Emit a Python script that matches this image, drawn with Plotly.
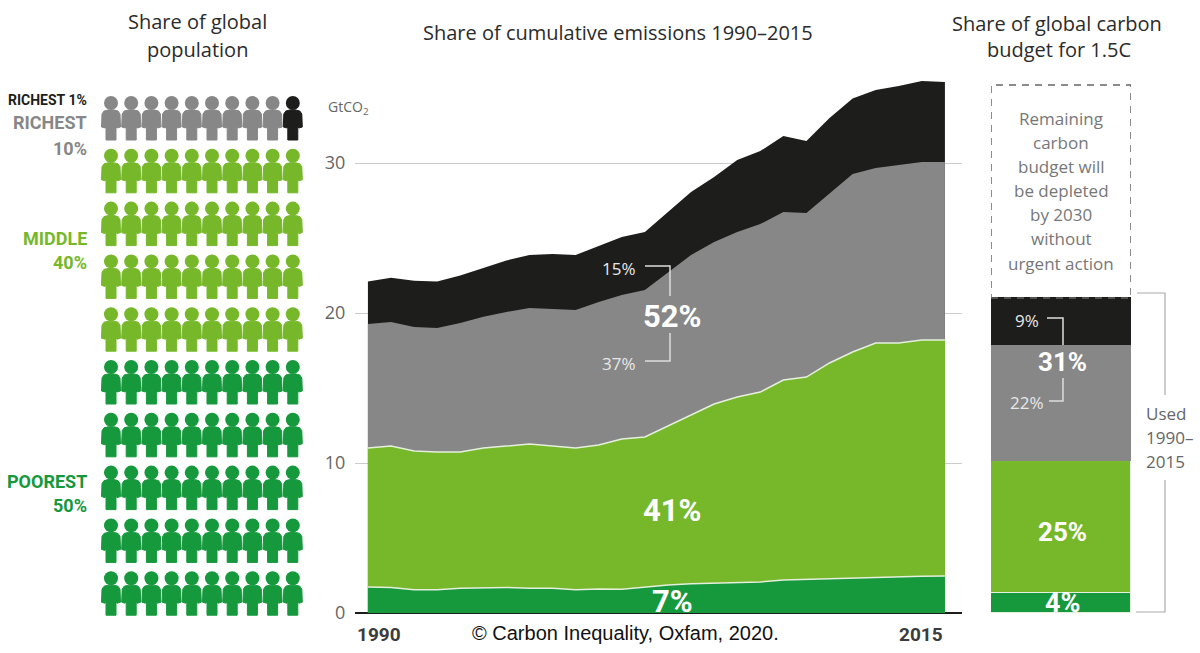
import plotly.graph_objects as go

# values, GtCO2, top edge of each band
years = list(range(1990, 2016))
top_richest1 = [22.1, 22.35, 22.15, 22.1, 22.5, 23.0, 23.5, 23.87, 23.93, 23.87, 24.47, 25.07, 25.4,
                26.73, 28.07, 29.07, 30.2, 30.8, 31.8, 31.47, 33.0, 34.3, 34.87, 35.13, 35.47, 35.4]
top_richest10 = [19.27, 19.4, 19.07, 19.0, 19.33, 19.75, 20.07, 20.33, 20.27, 20.2, 20.73, 21.2, 21.53,
                 22.73, 23.87, 24.73, 25.4, 25.93, 26.73, 26.67, 28.0, 29.27, 29.67, 29.87, 30.07, 30.07]
top_middle = [11.0, 11.13, 10.8, 10.73, 10.73, 11.0, 11.13, 11.27, 11.13, 11.0, 11.2, 11.6, 11.73,
              12.47, 13.2, 13.93, 14.4, 14.73, 15.53, 15.73, 16.67, 17.4, 18.0, 18.0, 18.2, 18.2]
top_poorest = [1.73, 1.7, 1.55, 1.55, 1.65, 1.7, 1.7, 1.65, 1.65, 1.55, 1.6, 1.58, 1.75,
               1.87, 1.95, 2.0, 2.05, 2.07, 2.2, 2.25, 2.25, 2.3, 2.37, 2.42, 2.45, 2.47]

# carbon budget bar, GtCO2 per group, bottom to top
budget_groups = ["Poorest 50%", "Middle 40%", "Richest 10%", "Richest 1%"]
budget_values = [1.33, 8.8, 7.74, 3.13]
budget_remaining_top = 35.2

# people per group, out of 100
people_counts = [1, 9, 40, 50]

y_ticks = [0, 10, 20, 30]

BLACK = "#1d1d1b"
GREY = "#878787"
GREEN = "#76b82a"
DARK_GREEN = "#16983d"
EDGE = "#e6eedd"
TITLE = "#2b2b2a"
W, H = 1200, 653
DIN = "Open Sans"
BOLD = "Roboto"


def px(x):
    return x / W


def py(y):
    return 1 - y / H


fig = go.Figure()

# main area chart
for vals, col, edge in [(top_richest1, BLACK, None), (top_richest10, GREY, None),
                        (top_middle, GREEN, EDGE), (top_poorest, DARK_GREEN, EDGE)]:
    fig.add_trace(go.Scatter(x=years, y=vals, mode="lines", fill="tozeroy", fillcolor=col,
                             line=dict(color=edge or col, width=1.5 if edge else 0),
                             xaxis="x", yaxis="y", hoverinfo="skip", showlegend=False))

# budget bar
budget_colors = [DARK_GREEN, GREEN, GREY, BLACK]
budget_edges = [EDGE, EDGE, GREY, BLACK]
for g, v, c, e in zip(budget_groups, budget_values, budget_colors, budget_edges):
    fig.add_trace(go.Bar(x=[0], y=[v], name=g, marker=dict(color=c, line=dict(color=e, width=1)),
                         width=1, xaxis="x2", yaxis="y2", hoverinfo="skip", showlegend=False))

# people, one filled outline per group plus a marker for each head
body = [(-3, 7), (3, 7), (7, 8), (9, 11), (9.5, 24), (6, 25), (5, 24), (5, 37), (-5, 37), (-5, 24),
        (-6, 25), (-9.5, 24), (-9, 11), (-7, 8)]
spacing_x, spacing_y = 20.2, 52.8
people_colors = [BLACK, GREY, GREEN, DARK_GREEN]
cells = [(c, r) for r in range(10) for c in range(10)]
# richest 1% is the last figure of the top row, then the other nine, then the rows below
order = [(9, 0)] + cells[:9] + cells[10:]
start = 0
for n, col in zip(people_counts, people_colors):
    group = order[start:start + n]
    start += n
    bx, by = [], []
    for c, r in group:
        for dx, dy in body + body[:1]:
            bx.append(c * spacing_x + dx)
            by.append(r * spacing_y + dy)
        bx.append(None)
        by.append(None)
    fig.add_trace(go.Scatter(x=bx, y=by, mode="lines", fill="toself", fillcolor=col,
                             line=dict(color=col, width=1), xaxis="x3", yaxis="y3",
                             hoverinfo="skip", showlegend=False))
    fig.add_trace(go.Scatter(x=[c * spacing_x for c, r in group], y=[r * spacing_y for c, r in group],
                             mode="markers", marker=dict(color=col, size=14), xaxis="x3", yaxis="y3",
                             hoverinfo="skip", showlegend=False))


def label(x, y, text, size=17, color="#555555", font=DIN, anchor="center", bold=False):
    fig.add_annotation(xref="paper", yref="paper", x=px(x), y=py(y), text=text, showarrow=False,
                       xanchor=anchor, yanchor="middle",
                       font=dict(family=font, size=size, color=color, weight=700 if bold else 400))


def path(points, color="#dddddd", width=1.5):
    d = "M " + " L ".join(f"{px(a)},{py(b)}" for a, b in points)
    fig.add_shape(type="path", xref="paper", yref="paper", path=d, line=dict(color=color, width=width))


# titles
label(197, 22, "Share of global", 20, TITLE)
label(197, 49, "population", 20, TITLE)
label(618, 32, "Share of cumulative emissions 1990–2015", 20, TITLE)
label(1057, 24, "Share of global carbon", 20, TITLE)
label(1059, 49, "budget for 1.5C", 20, TITLE)

# group labels
label(89, 100, "RICHEST 1%", 14, BLACK, BOLD, "right", True)
label(89, 122, "RICHEST", 18, GREY, BOLD, "right", True)
label(89, 148, "10%", 18, GREY, BOLD, "right", True)
label(89, 238, "MIDDLE", 18, GREEN, BOLD, "right", True)
label(89, 262, "40%", 18, GREEN, BOLD, "right", True)
label(89, 481, "POOREST", 18, DARK_GREEN, BOLD, "right", True)
label(89, 505, "50%", 18, DARK_GREEN, BOLD, "right", True)

# axis bits
label(326, 108, "GtCO<sub>2</sub>", 14, "#666666", anchor="left")
label(355, 634, "1990", 19, "#3c3c3b", BOLD, "left", True)
label(945, 634, "2015", 19, "#3c3c3b", BOLD, "right", True)
label(626, 633, "© Carbon Inequality, Oxfam, 2020.", 20, "#111111", "Liberation Sans")

# area chart callouts
label(619, 268, "15%", 17, "#e8e8e8")
label(619, 363, "37%", 17, "#e8e8e8")
label(672, 316, "52%", 31, "white", BOLD, bold=True)
label(672, 510, "41%", 31, "white", BOLD, bold=True)
label(672, 601, "7%", 31, "white", BOLD, bold=True)
path([(645, 266), (670, 266), (670, 296)])
path([(670, 333), (670, 361), (645, 361)])

# bar callouts
label(1027, 320, "9%", 17, "#e8e8e8")
label(1027, 402, "22%", 17, "#e8e8e8")
label(1062, 362, "31%", 26, "white", BOLD, bold=True)
label(1062, 532, "25%", 26, "white", BOLD, bold=True)
label(1062, 603, "4%", 27, "white", BOLD, bold=True)
path([(1047, 318), (1063, 318), (1063, 345)])
path([(1063, 378), (1063, 401), (1049, 401)])

# remaining budget text
remaining_lines = ["Remaining", "carbon", "budget will", "be depleted", "by 2030", "without", "urgent action"]
for i, line in enumerate(remaining_lines):
    label(1061, 118 + i * 24.2, line, 17, "#777777")

# used bracket
path([(1137, 293), (1165, 293), (1165, 395)], "#aaaaaa", 1.2)
path([(1165, 480), (1165, 612), (1136, 612)], "#aaaaaa", 1.2)
for i, line in enumerate(["Used", "1990–", "2015"]):
    label(1144, 413 + i * 24, line, 17, "#666666", anchor="left")

# dashed box above the bar
fig.add_shape(type="rect", xref="x2", yref="y2", x0=-0.5, x1=0.5,
              y0=sum(budget_values), y1=budget_remaining_top,
              line=dict(color="#666666", width=1.5, dash="7px,6px"))

y_dom = [py(613), py(73)]
fig.update_layout(
    width=W, height=H,
    margin=dict(l=0, r=0, t=0, b=0, autoexpand=False), paper_bgcolor="white", plot_bgcolor="white",
    barmode="stack", bargap=0, showlegend=False,
    xaxis=dict(domain=[px(355), px(962)], range=[1989.44, 2015.74], visible=False),
    yaxis=dict(domain=y_dom, range=[0, 36], tickvals=y_ticks, showgrid=True, gridcolor="#cccccc", gridwidth=1,
               zeroline=True, zerolinecolor="#1d1d1b", zerolinewidth=1.5, showline=False, automargin=False,
               ticks="outside", ticklen=5, tickcolor="rgba(0,0,0,0)",
               tickfont=dict(family=DIN, size=18, color="#666666")),
    xaxis2=dict(domain=[px(991), px(1131)], range=[-0.5, 0.5], visible=False, automargin=False),
    yaxis2=dict(domain=y_dom, range=[0, 36], anchor="x2", visible=False, automargin=False),
    xaxis3=dict(domain=[px(96), px(306)], range=[-15, 195], visible=False, automargin=False),
    yaxis3=dict(domain=[py(625), py(85)], range=[522, -18], anchor="x3", visible=False, automargin=False),
)

fig.write_html("out.html", config={"displayModeBar": False},
               post_script="document.body.style.margin='0';")
